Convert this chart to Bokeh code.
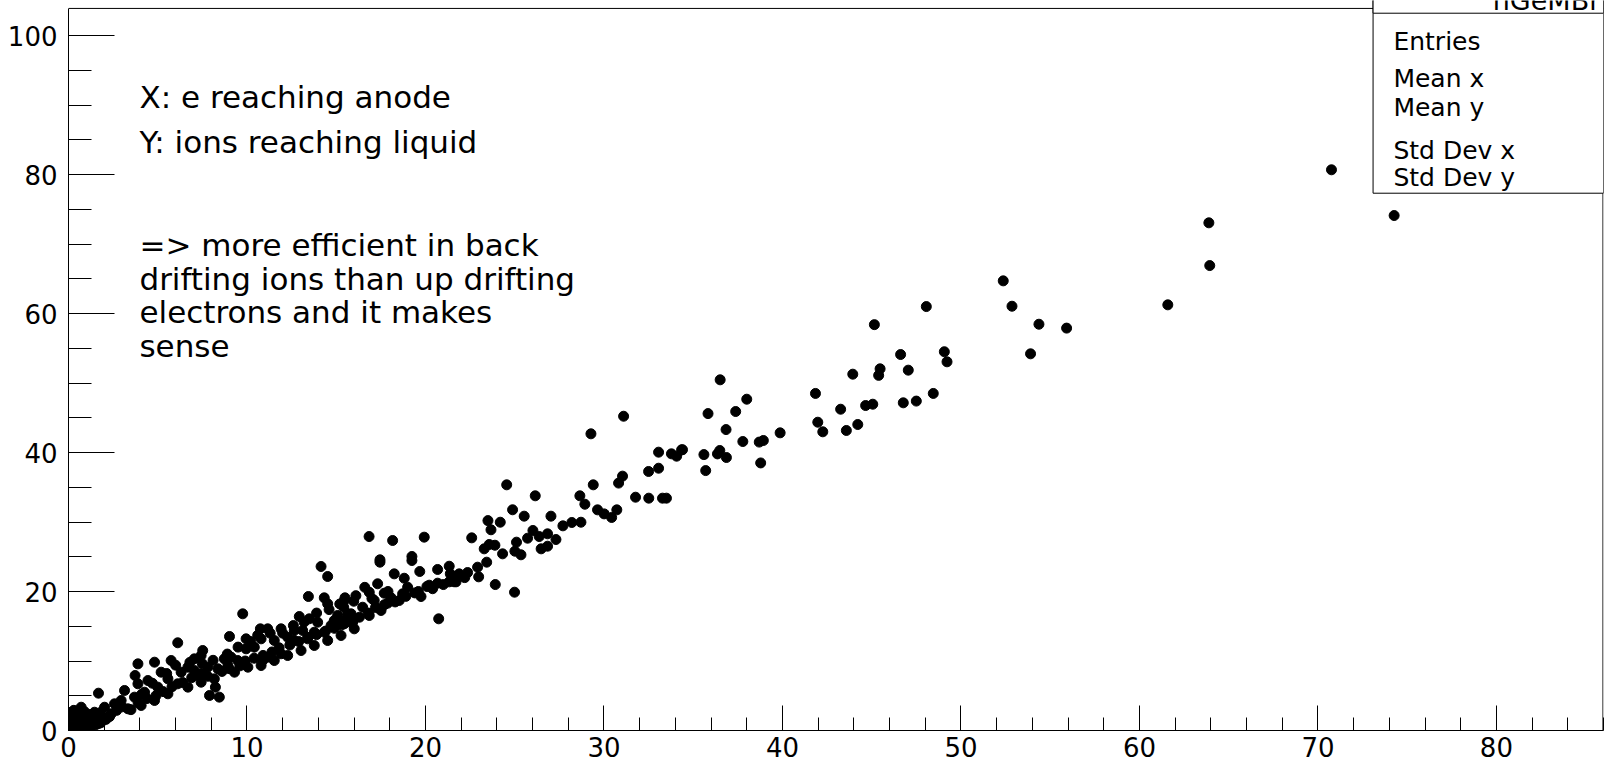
from bokeh.plotting import figure
from bokeh.models import Range1d, SingleIntervalTicker, Span, BoxAnnotation, Label, ColumnDataSource
from bokeh.embed import file_html
from bokeh.resources import INLINE

# electrons reaching anode (x) vs ions reaching liquid (y)
x_e = [
    70.76, 74.27, 63.89, 63.94, 61.59, 52.37, 52.86, 54.37, 55.92, 53.90,
    48.06, 45.15, 46.62, 49.07, 49.22, 45.47, 45.39, 47.05, 43.94, 41.85,
    48.45, 47.50, 46.77, 45.06, 44.66, 43.26, 41.98, 42.26, 43.58, 44.22,
    36.51, 38.00, 35.83, 37.38, 36.84, 37.78, 38.93, 38.70, 39.87, 34.40,
    35.60, 36.49, 36.36, 36.86, 38.78, 35.70,
    31.10, 29.27, 33.06, 33.78, 34.07, 34.35, 32.50, 33.06, 31.04, 30.82,
    29.40, 31.77, 32.51, 33.28, 33.50, 28.65, 28.93, 29.64, 30.01, 30.43,
    30.72, 28.71, 28.20, 27.70, 27.03, 26.15, 24.88, 25.53, 24.55, 23.50,
    23.67, 24.19, 26.02, 26.37, 26.84, 27.31, 25.72, 26.48, 26.84, 25.10,
    25.01, 25.35, 23.57, 23.89, 23.29, 24.32, 23.43, 22.92, 22.98, 22.59,
    23.91, 24.99, 20.74, 22.36, 21.89, 21.33, 21.39, 20.68, 21.71, 21.33,
    20.68, 20.21, 19.93, 19.68, 19.24, 19.24, 18.16, 16.84, 17.45, 17.45,
    18.25, 18.81, 19.00, 19.60, 19.75, 20.08, 17.32, 16.85, 17.69, 18.07,
    18.53, 18.72, 17.13, 16.48, 17.51, 16.85, 15.83, 15.45, 15.92, 15.45,
    17.88,
    14.15, 14.52, 13.44, 14.33, 14.52, 15.49, 15.98, 9.76, 6.12, 9.02,
    3.89, 1.68, 5.75, 4.82, 7.52, 7.90, 8.45, 8.23, 3.14, 3.73,
    10.75, 11.16, 11.91, 12.93, 13.49, 13.96, 14.89, 15.42, 16.01, 7.05,
    7.43, 8.73, 7.80, 9.95, 9.95, 9.48, 9.11, 10.41, 10.79, 11.53,
    11.91, 12.65, 13.12, 13.77, 12.28, 11.16, 10.88, 12.65, 15.08, 14.71,
    15.45, 14.33, 13.40, 5.19, 4.45, 3.89, 5.57, 6.31, 6.69, 7.05,
    7.43, 8.37, 8.93, 6.12, 5.00, 4.26, 3.70, 2.95, 2.58, 2.02,
    1.46, 0.71, 0.34, 0.00, 0.15, 0.00, 1.09, 1.65, 0.71, 0.34,
    1.83, 2.39, 3.33, 4.07, 4.82, 5.57, 6.69, 7.43, 8.17, 9.30,
    10.05, 10.79, 11.53, 12.28, 13.03, 13.77, 14.52, 15.27, 16.01, 15.64,
    0.00, 0.00, 0.00, 0.30, 0.30, 0.30, 0.60, 0.60, 0.60, 0.90,
    0.90, 0.90, 1.20, 1.20, 1.20, 1.50, 1.50, 1.80, 1.80, 2.10,
    2.30, 2.70, 3.00, 3.50, 3.90, 4.40, 4.90, 5.30, 5.80, 6.40,
    6.90, 7.30, 7.80, 8.60, 9.00, 9.60, 9.90, 10.40, 10.90, 11.40,
    11.80, 12.40, 12.90, 13.40, 13.90, 14.40, 14.90, 15.30, 15.80, 16.30,
    16.80, 17.20, 17.70, 18.30, 18.90, 19.40, 20.40, 21.00, 21.60, 22.20,
    4.10, 4.70, 5.50, 6.00, 6.80, 7.50, 8.10, 8.90, 9.50, 10.20,
    10.60, 11.30, 12.00, 12.60, 13.20, 13.90, 14.60, 15.20, 16.10, 16.60,
    17.00, 17.90,
]
y_ion = [
    80.68, 74.10, 73.05, 66.90, 61.25, 64.70, 61.05, 58.46, 57.90, 54.20,
    61.00, 58.40, 54.10, 54.50, 53.05, 52.04, 51.10, 51.85, 51.27, 48.50,
    48.50, 47.40, 47.15, 46.95, 46.76, 46.23, 44.36, 42.98, 43.17, 44.03,
    50.46, 47.67, 45.60, 45.90, 43.30, 41.58, 41.73, 41.50, 42.83, 40.40,
    39.70, 40.29, 39.80, 39.28, 38.50, 37.40,
    45.22, 42.69, 40.05, 39.81, 39.47, 40.38, 37.27, 37.74, 36.60, 35.60,
    35.35, 33.57, 33.43, 33.43, 33.43, 33.77, 32.56, 31.75, 31.17, 30.65,
    31.75, 29.97, 29.93, 29.45, 30.84, 33.77, 31.76, 30.84, 35.35, 30.20,
    28.88, 29.97, 28.78, 27.91, 28.30, 27.48, 27.67, 26.14, 26.52, 27.10,
    25.80, 25.28, 26.76, 26.66, 26.14, 25.42, 24.22, 23.50, 22.11, 27.72,
    21.00, 19.90, 16.07, 22.73, 22.54, 23.64, 22.54, 23.17, 21.39, 21.39,
    21.20, 20.91, 27.82, 22.88, 25.04, 24.46, 27.34, 27.91, 24.56, 24.22,
    22.54, 21.91, 20.62, 20.00, 19.28, 20.72, 21.11, 19.90, 19.76, 19.09,
    18.71, 19.67, 18.71, 17.74, 17.27, 16.55, 16.79, 18.71, 15.58, 15.83,
    18.32,
    23.60, 22.16, 19.28, 19.09, 18.23, 19.09, 18.60, 16.79, 12.62, 13.53,
    9.59, 5.37, 10.07, 9.83, 11.51, 5.04, 4.80, 6.24, 5.76, 7.91,
    14.63, 14.63, 14.63, 16.40, 16.07, 15.58, 15.83, 17.74, 16.07, 10.31,
    10.79, 10.31, 9.11, 13.19, 11.75, 10.07, 10.55, 11.99, 13.19, 12.95,
    11.04, 12.95, 14.39, 14.14, 13.42, 10.55, 10.07, 14.39, 16.55, 15.11,
    15.35, 14.14, 13.19, 8.39, 7.19, 6.72, 7.43, 8.39, 9.11, 8.63,
    8.16, 8.88, 9.35, 6.72, 6.24, 5.51, 4.80, 4.32, 3.84, 3.35,
    2.63, 3.35, 2.40, 1.90, 0.96, 0.00, 1.44, 0.96, 0.47, 0.24,
    1.91, 2.40, 3.12, 3.60, 4.32, 5.28, 6.24, 6.95, 7.43, 8.39,
    9.11, 9.35, 10.07, 10.79, 11.51, 12.23, 12.95, 13.67, 14.63, 16.79,
    0.50, 1.20, 2.60, 0.30, 1.50, 2.90, 0.20, 1.00, 2.10, 0.60,
    1.60, 2.70, 0.40, 1.30, 2.30, 0.80, 1.80, 1.10, 2.60, 1.60,
    2.00, 2.90, 3.40, 3.00, 4.00, 4.60, 5.00, 5.60, 6.30, 6.90,
    7.60, 7.90, 7.80, 8.50, 8.90, 9.30, 10.00, 10.40, 10.80, 11.30,
    11.90, 12.30, 12.80, 13.40, 13.80, 14.30, 14.70, 15.20, 15.60, 16.30,
    16.90, 17.70, 18.10, 18.50, 19.30, 19.80, 20.40, 21.00, 21.40, 22.00,
    5.20, 6.80, 8.20, 9.40, 9.80, 9.60, 10.10, 11.00, 12.00, 12.80,
    13.70, 14.00, 14.00, 15.10, 15.60, 16.90, 17.40, 18.20, 19.40, 20.60,
    19.00, 20.00,
]

annotation_lines = [
    "X: e reaching anode",
    "Y: ions reaching liquid",
    "=> more efficient in back",
    "drifting ions than up drifting",
    "electrons and it makes",
    "sense",
]
stats_labels = ["Entries", "Mean x", "Mean y", "Std Dev x", "Std Dev y"]
hist_name = "hGeMBr"

FONT = "DejaVu Sans"

p = figure(width=1604, height=767, output_backend="svg", toolbar_location=None,
           x_range=Range1d(0, 86), y_range=Range1d(0, 105.04),
           min_border_left=68, min_border_right=1, min_border_top=0, min_border_bottom=37)
p.outline_line_color = None
p.grid.visible = False
p.background_fill_color = "white"
p.border_fill_color = "white"

src = ColumnDataSource(dict(x=x_e, y=y_ion))
p.scatter("x", "y", source=src, size=10, marker="circle", fill_color="black", line_color="black")

xa = p.xaxis[0]
xa.ticker = SingleIntervalTicker(interval=10, num_minor_ticks=5)
xa.major_tick_in = 25
xa.major_tick_out = 0
xa.minor_tick_in = 13
xa.minor_tick_out = 0
xa.major_label_standoff = 6
xa.axis_line_color = "black"
xa.major_tick_line_color = "black"
xa.minor_tick_line_color = "black"
xa.major_label_text_font = FONT
xa.major_label_text_font_size = "26px"
xa.major_label_text_color = "black"

ya = p.yaxis[0]
ya.ticker = SingleIntervalTicker(interval=20, num_minor_ticks=4)
ya.bounds = (0, 103.9)
ya.major_tick_in = 46
ya.major_tick_out = 0
ya.minor_tick_in = 23
ya.minor_tick_out = 0
ya.major_label_standoff = 11
ya.axis_line_color = "black"
ya.major_tick_line_color = "black"
ya.minor_tick_line_color = "black"
ya.major_label_text_font = FONT
ya.major_label_text_font_size = "26px"
ya.major_label_text_color = "black"

# frame top and right edges
p.add_layout(Span(location=103.9, dimension="width", line_color="black", line_width=1))
p.add_layout(Span(location=85.97, dimension="height", line_color="black", line_width=1))

# stats box and title box
p.add_layout(BoxAnnotation(left=73.09, right=86, bottom=77.31, top=105.5,
                           fill_color="white", fill_alpha=1.0,
                           line_color="black", line_width=1, line_alpha=1.0))
p.add_layout(BoxAnnotation(left=73.09, right=86, bottom=103.21, top=106,
                           fill_color="white", fill_alpha=1.0,
                           line_color="black", line_width=1, line_alpha=1.0))
p.add_layout(Label(x=85.82, y=105.1, text=hist_name, text_align="right",
                   text_baseline="alphabetic", text_font=FONT, text_font_size="27px",
                   text_color="black"))

stats_y = [99.14, 93.80, 89.68, 83.45, 79.60]
for lab, yy in zip(stats_labels, stats_y):
    p.add_layout(Label(x=74.23, y=yy, text=lab, text_align="left",
                       text_baseline="alphabetic", text_font=FONT,
                       text_font_size="25px", text_color="black"))

ann_y = [91.12, 84.65, 69.88, 65.02, 60.16, 55.30]
for line, yy in zip(annotation_lines, ann_y):
    p.add_layout(Label(x=3.975, y=yy, text=line, text_align="left",
                       text_baseline="alphabetic", text_font=FONT,
                       text_font_size="31px", text_color="black"))

open("out.html", "w").write(file_html(p, INLINE))
